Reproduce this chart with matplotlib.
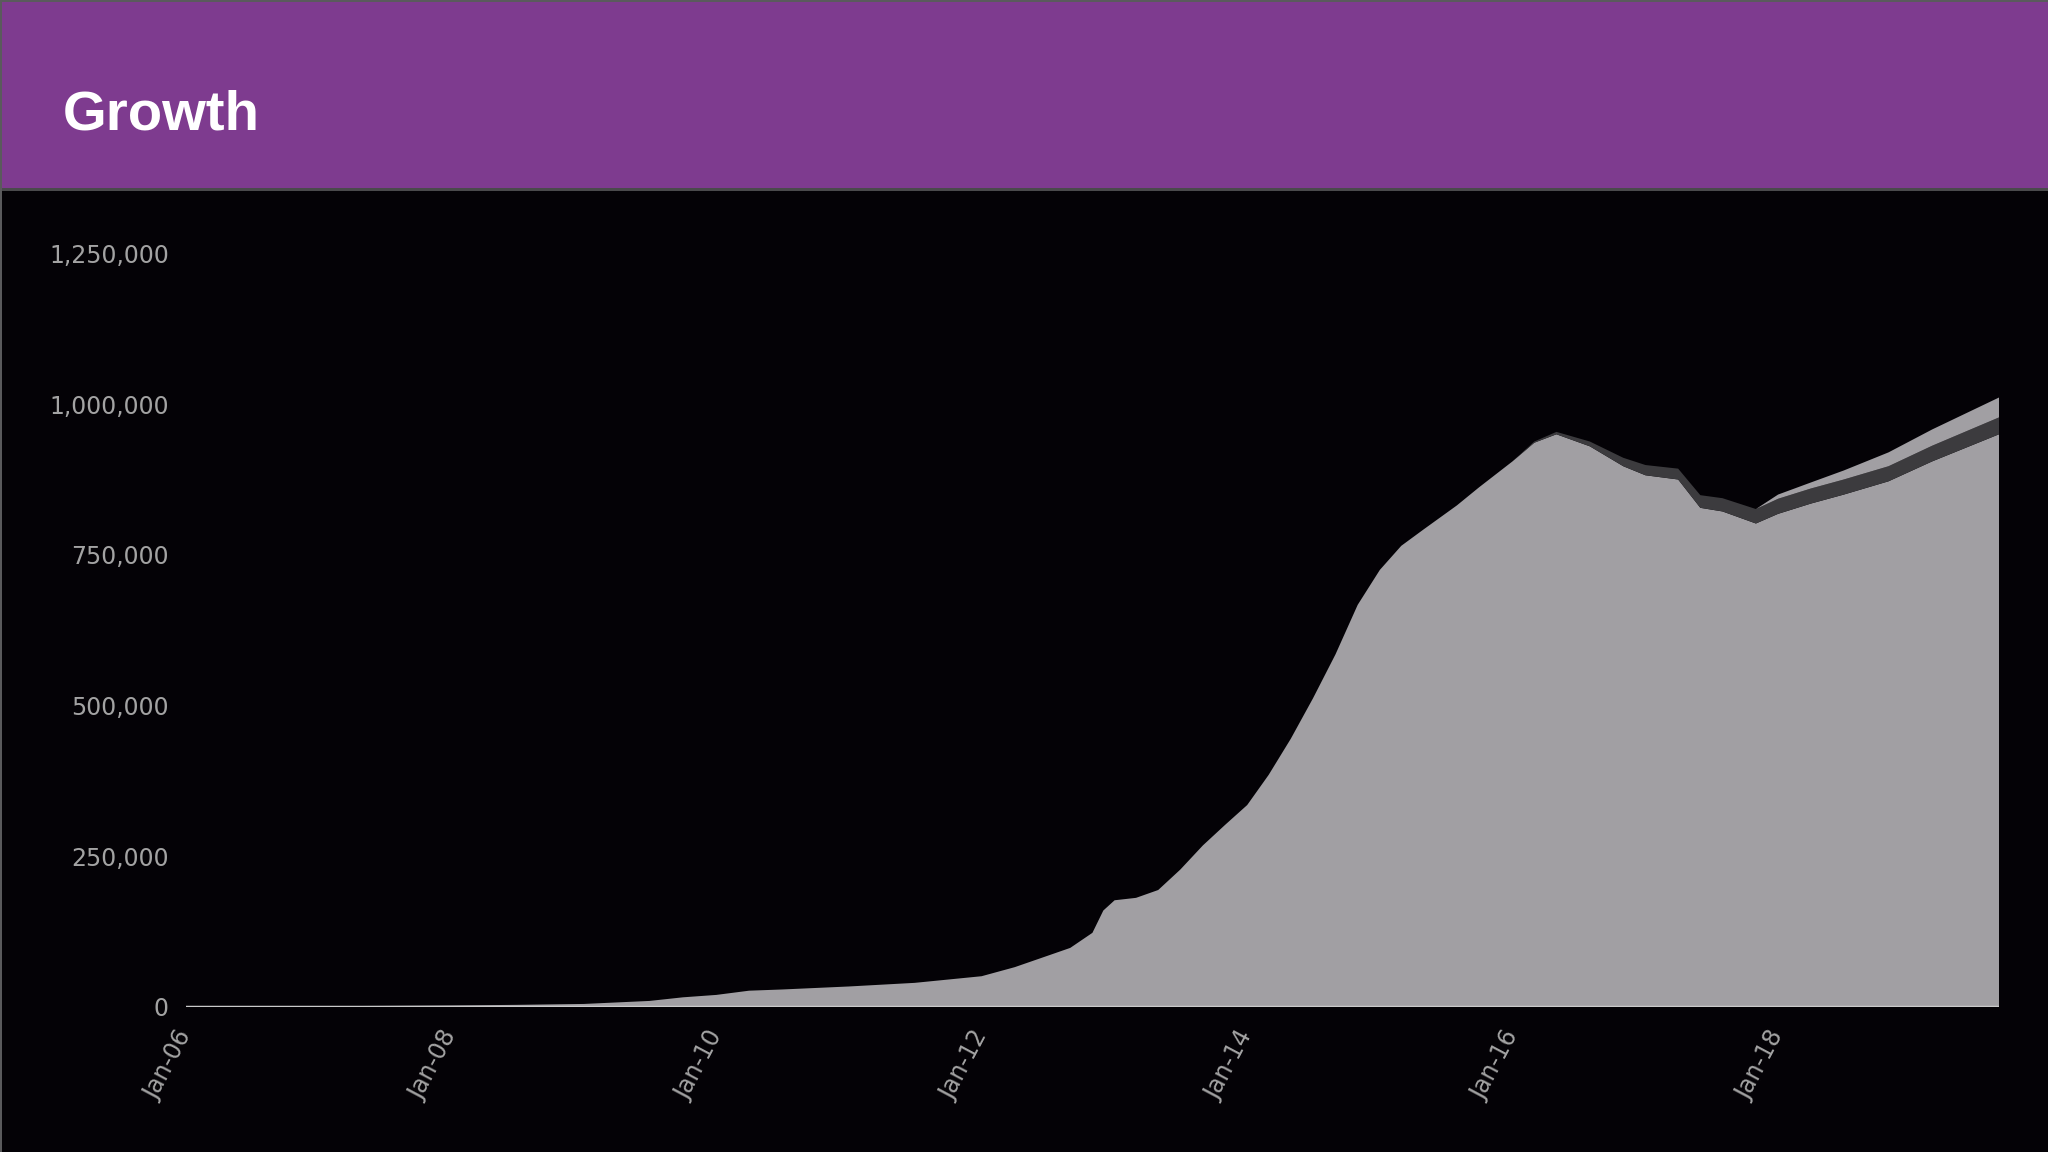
import matplotlib
matplotlib.use("Agg")
import matplotlib.pyplot as plt
import matplotlib.dates as mdates
from matplotlib.patches import Rectangle
from matplotlib.ticker import FuncFormatter
import pandas as pd

# ---- data ----
months = ["2006-01", "2006-07", "2007-01", "2007-07", "2008-01", "2008-07", "2009-01",
          "2009-07", "2009-10", "2010-01", "2010-04", "2010-07", "2011-01", "2011-07",
          "2012-01", "2012-04", "2012-07", "2012-09", "2012-11", "2012-12", "2013-01",
          "2013-03", "2013-05", "2013-07", "2013-09", "2013-11", "2014-01", "2014-03",
          "2014-05", "2014-07", "2014-09", "2014-11", "2015-01", "2015-03", "2015-05",
          "2015-08", "2015-10", "2016-01", "2016-03", "2016-05", "2016-08", "2016-11",
          "2017-01", "2017-04", "2017-06", "2017-08", "2017-11", "2018-01", "2018-04",
          "2018-07", "2018-11", "2019-03", "2019-09"]
main_series = [500, 800, 1200, 1800, 2500, 3500, 5000,
               10000, 16000, 20000, 27000, 29000, 34000, 40000,
               51000, 66000, 85000, 98000, 123000, 160000, 177000,
               181000, 194000, 228000, 268000, 302000, 335000, 385000,
               445000, 512000, 585000, 667000, 725000, 765000, 792000,
               832000, 862000, 905000, 936000, 950000, 930000, 897000,
               882000, 875000, 828000, 822000, 802000, 818000, 835000,
               850000, 872000, 905000, 950000]
dark_series = [0, 0, 0, 0, 0, 0, 0,
               0, 0, 0, 0, 0, 0, 0,
               0, 0, 0, 0, 0, 0, 0,
               0, 0, 0, 0, 0, 0, 0,
               0, 0, 0, 0, 0, 0, 0,
               0, 0, 0, 2000, 4000, 8000, 14000,
               17000, 18000, 21000, 22000, 24000, 25000, 25000,
               25000, 25000, 26000, 28000]
top_series = [0, 0, 0, 0, 0, 0, 0,
              0, 0, 0, 0, 0, 0, 0,
              0, 0, 0, 0, 0, 0, 0,
              0, 0, 0, 0, 0, 0, 0,
              0, 0, 0, 0, 0, 0, 0,
              0, 0, 0, 0, 0, 0, 0,
              0, 0, 0, 0, 0, 7000, 10000,
              15000, 23000, 27000, 33000]
y_ticks = [0, 250000, 500000, 750000, 1000000, 1250000]
x_tick_years = [2006, 2008, 2010, 2012, 2014, 2016, 2018]

# ---- styling ----
BG = "#040206"
PURPLE = "#7e3b8f"
LIGHT = "#a19fa3"
DARK = "#3c3b3e"
LABEL = "#a3a3a3"

dates = pd.to_datetime(months)

fig = plt.figure(figsize=(20.48, 11.52), dpi=100, facecolor=BG)

# header band + borders
fig.patches.append(Rectangle((0, 0.836), 1, 0.164, transform=fig.transFigure,
                             facecolor=PURPLE, edgecolor="none", zorder=0))
fig.patches.append(Rectangle((0, 0.8345), 1, 0.0025, transform=fig.transFigure,
                             facecolor="#4a4a4c", edgecolor="none", zorder=1))
fig.patches.append(Rectangle((0, 0.998), 1, 0.002, transform=fig.transFigure,
                             facecolor="#5a5a5c", edgecolor="none", zorder=1))
fig.patches.append(Rectangle((0, 0), 0.0012, 1, transform=fig.transFigure,
                             facecolor="#5a5a5c", edgecolor="none", zorder=1))

fig.text(63 / 2048, 0.888, "Growth", color="white", fontsize=40.5, fontweight="bold",
         family=["Liberation Sans", "DejaVu Sans"], ha="left", va="baseline")

ax = fig.add_axes([185.5 / 2048, 0.1259, (1999 - 185.5) / 2048, 0.780 - 0.1259])
ax.set_facecolor(BG)
ax.stackplot(dates, main_series, dark_series, top_series,
             colors=[LIGHT, DARK, LIGHT], linewidth=0)
ax.axhline(0, color="#c9c9c9", lw=2.5, zorder=5)

ax.set_xlim(pd.Timestamp("2006-01-01"), dates[-1])
ax.set_ylim(0, 1250000)
ax.set_yticks(y_ticks)
ax.yaxis.set_major_formatter(FuncFormatter(lambda v, p: f"{int(v):,}"))
ax.set_xticks([pd.Timestamp(f"{y}-01-01") for y in x_tick_years])
ax.xaxis.set_major_formatter(mdates.DateFormatter("%b-%y"))

for s in ax.spines.values():
    s.set_visible(False)
ax.tick_params(axis="both", length=0, colors=LABEL, labelsize=17)
ax.tick_params(axis="y", pad=12)
ax.tick_params(axis="x", pad=18)
for lbl in ax.get_xticklabels():
    lbl.set_rotation(62)
    lbl.set_rotation_mode("anchor")
    lbl.set_ha("right")
    lbl.set_va("center")
    lbl.set_x(lbl.get_position()[0])
ax.grid(False)

fig.savefig("out.png", dpi=100, facecolor=BG)
